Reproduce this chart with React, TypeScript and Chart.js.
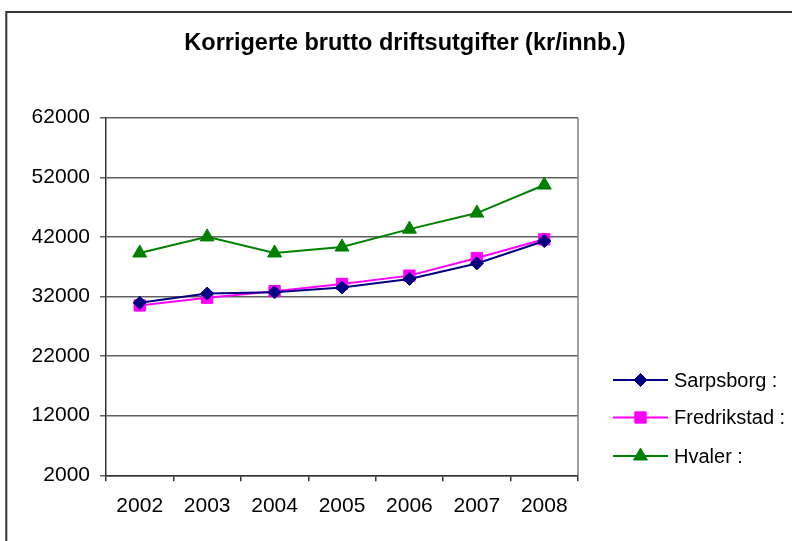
import React, { useEffect, useRef } from 'react';
import { Chart, registerables } from 'chart.js';
import { drawPoint } from 'chart.js/helpers';

Chart.register(...registerables);

const TITLE = 'Korrigerte brutto driftsutgifter (kr/innb.)';
const years = ['2002', '2003', '2004', '2005', '2006', '2007', '2008'];
const sarpsborg = [30950, 32500, 32700, 33500, 34950, 37550, 41300];
const fredrikstad = [30500, 31800, 32900, 34100, 35500, 38450, 41600];
const hvaler = [39300, 42000, 39300, 40300, 43300, 46000, 50700];
const seriesNames = ['Sarpsborg :', 'Fredrikstad :', 'Hvaler :'];
const yMin = 2000;
const yMax = 62000;
const yStep = 10000;

const FONT = '"Liberation Sans", Arial, sans-serif';
const W = 792;
const H = 541;

const decor = {
  id: 'decor',
  beforeDraw(chart: any) {
    const ctx = chart.ctx;
    ctx.save();
    ctx.fillStyle = '#fff';
    ctx.fillRect(0, 0, chart.width, chart.height);
    ctx.strokeStyle = '#333';
    ctx.lineWidth = 2;
    ctx.beginPath();
    ctx.moveTo(6.3, chart.height + 10);
    ctx.lineTo(6.3, 12);
    ctx.lineTo(chart.width + 10, 12);
    ctx.stroke();
    ctx.fillStyle = '#000';
    ctx.font = `bold 23.5px ${FONT}`;
    ctx.textAlign = 'center';
    ctx.textBaseline = 'alphabetic';
    ctx.fillText(TITLE, 405, 50);
    ctx.restore();
  },
  beforeDatasetsDraw(chart: any) {
    const { ctx, chartArea } = chart;
    ctx.save();
    ctx.strokeStyle = '#808080';
    ctx.lineWidth = 1.5;
    ctx.beginPath();
    ctx.moveTo(chartArea.right, chartArea.top);
    ctx.lineTo(chartArea.right, chartArea.bottom);
    ctx.stroke();
    ctx.restore();
  },
  afterDraw(chart: any) {
    const ctx = chart.ctx;
    const rows = [380, 417.5, 456];
    ctx.save();
    chart.data.datasets.forEach((ds: any, i: number) => {
      const y = rows[i];
      ctx.strokeStyle = ds.borderColor;
      ctx.lineWidth = 2;
      ctx.beginPath();
      ctx.moveTo(613, y);
      ctx.lineTo(668, y);
      ctx.stroke();
      ctx.fillStyle = ds.pointBackgroundColor;
      ctx.strokeStyle = ds.pointBorderColor;
      ctx.lineWidth = 1;
      drawPoint(ctx, { pointStyle: ds.pointStyle, radius: ds.pointRadius, rotation: 0, borderWidth: 1 }, 640.5, y);
      ctx.fillStyle = '#000';
      ctx.font = `20px ${FONT}`;
      ctx.textAlign = 'left';
      ctx.textBaseline = 'alphabetic';
      ctx.fillText(seriesNames[i], 674, y + 6.5);
    });
    ctx.restore();
  },
};

export default function App() {
  const ref = useRef<HTMLCanvasElement>(null);
  useEffect(() => {
    if (!ref.current) return;
    const mk = (label: string, data: number[], color: string, style: string, r: number) => ({
      label,
      data,
      borderColor: color,
      backgroundColor: color,
      pointBackgroundColor: color,
      pointBorderColor: color,
      pointStyle: style,
      pointRadius: r,
      pointBorderWidth: 1,
      borderWidth: 2,
      tension: 0,
      fill: false,
    });
    const chart = new Chart(ref.current, {
      type: 'line',
      data: {
        labels: years,
        datasets: [
          mk(seriesNames[0], sarpsborg, '#000080', 'rectRot', 6.5),
          mk(seriesNames[1], fredrikstad, '#FF00FF', 'rect', 8),
          mk(seriesNames[2], hvaler, '#008000', 'triangle', 8),
        ],
      },
      options: {
        responsive: false,
        animation: false,
        layout: { padding: { left: 0, top: 117.7, right: W - 578, bottom: 0 } },
        plugins: {
          legend: { display: false },
          title: { display: false },
          tooltip: { enabled: false },
        },
        scales: {
          x: {
            type: 'category',
            offset: true,
            grid: { offset: true, drawOnChartArea: false, color: '#333', tickLength: 6, lineWidth: 1.5 },
            border: { color: '#333', width: 1.5 },
            ticks: { color: '#000', font: { family: FONT, size: 21 }, padding: 12.5, maxRotation: 0 },
            afterFit: (s: any) => { s.height = H - 475.3; },
          },
          y: {
            min: yMin,
            max: yMax,
            grid: { color: '#606060', tickLength: 6, lineWidth: 1.5 },
            border: { color: '#333', width: 1.5 },
            ticks: { stepSize: yStep, color: '#000', font: { family: FONT, size: 21 }, padding: 10, callback: (v: any) => String(v) },
            afterFit: (s: any) => { s.width = 106; },
          },
        },
      },
      plugins: [decor],
    });
    return () => chart.destroy();
  }, []);
  return (
    <div style={{ position: 'absolute', left: 0, top: 0, width: W, height: H, overflow: 'hidden', background: '#fff' }}>
      <canvas ref={ref} width={W} height={H} style={{ display: 'block' }} />
    </div>
  );
}
